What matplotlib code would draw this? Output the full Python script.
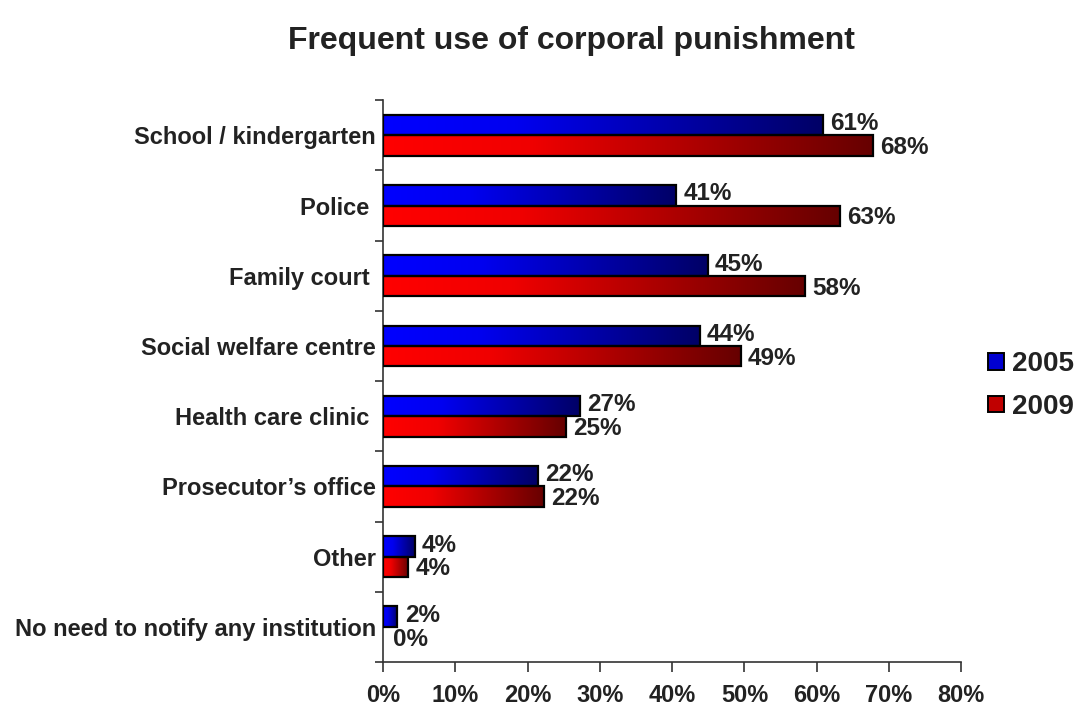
import numpy as np
import matplotlib
matplotlib.use("Agg")
import matplotlib.pyplot as plt
from matplotlib.colors import LinearSegmentedColormap
from matplotlib.patches import Rectangle, Patch

plt.rcParams['font.family'] = ['Liberation Sans', 'DejaVu Sans']

categories = [
    "School / kindergarten",
    "Police ",
    "Family court ",
    "Social welfare centre",
    "Health care clinic ",
    "Prosecutor\u2019s office",
    "Other",
    "No need to notify any institution",
]
values_2005 = [61, 41, 45, 44, 27, 22, 4, 2]
values_2009 = [68, 63, 58, 49, 25, 22, 4, 0]
# bar lengths as drawn (percent values rounded in labels)
bars_2005 = [60.8, 40.6, 44.9, 43.8, 27.2, 21.4, 4.4, 2.0]
bars_2009 = [67.8, 63.2, 58.4, 49.5, 25.3, 22.3, 3.5, 0.0]
series_names = ["2005", "2009"]
x_ticks = [0, 10, 20, 30, 40, 50, 60, 70, 80]

TEXT = "#222222"
blue_cmap = LinearSegmentedColormap.from_list(
    "blue_grad", [(0.0, "#0000ff"), (0.3, "#0000f0"), (1.0, "#000066")])
red_cmap = LinearSegmentedColormap.from_list(
    "red_grad", [(0.0, "#ff0000"), (0.3, "#f00000"), (1.0, "#660000")])

fig = plt.figure(figsize=(10.85, 7.11), dpi=100)
ax = fig.add_axes([0.353, 0.069, 0.533, 0.790])

n = len(categories)
bar_h = 0.29
gradient = np.linspace(0, 1, 256).reshape(1, -1)


def gradient_bar(y0, length, cmap):
    if length <= 0:
        return
    im = ax.imshow(gradient, cmap=cmap, aspect='auto',
                   extent=(0, length, y0, y0 + bar_h), zorder=2,
                   interpolation='bilinear')
    rect = Rectangle((0, y0), length, bar_h, facecolor='none',
                     edgecolor='black', linewidth=1.6, zorder=3)
    ax.add_patch(rect)
    im.set_clip_path(rect)


label_kw = dict(ha='left', va='center', fontsize=17.5, fontweight='bold',
                color=TEXT, zorder=4)
for i in range(n):
    center = n - 1 - i + 0.5  # top category first
    y_blue = center
    y_red = center - bar_h
    gradient_bar(y_blue, bars_2005[i], blue_cmap)
    gradient_bar(y_red, bars_2009[i], red_cmap)
    ax.text(bars_2005[i] + 1.0, y_blue + bar_h / 2 + 0.02,
            f"{values_2005[i]}%", **label_kw)
    off = 1.0 if bars_2009[i] > 0 else 1.4
    ax.text(bars_2009[i] + off, y_red + bar_h / 2 - 0.03,
            f"{values_2009[i]}%", **label_kw)

ax.set_xlim(0, 80)
ax.set_ylim(0, n)
ax.set_xticks(x_ticks)
ax.set_xticklabels([f"{t}%" for t in x_ticks], fontsize=17, fontweight='bold', color=TEXT)
ax.tick_params(axis='x', direction='out', length=7, width=1.2, color='#333333', pad=9)

# category boundaries as ticks, names at band centres
ax.set_yticks(np.arange(0, n + 1))
ax.set_yticklabels([])
ax.tick_params(axis='y', which='major', direction='out', length=6, width=1.2, color='#333333')
ax.set_yticks([n - 1 - i + 0.5 for i in range(n)], minor=True)
ax.set_yticklabels(categories, minor=True, fontsize=17, fontweight='bold', color=TEXT)
ax.tick_params(axis='y', which='minor', length=0, pad=5)

for side in ['top', 'right']:
    ax.spines[side].set_visible(False)
for side in ['left', 'bottom']:
    ax.spines[side].set_color('#333333')
    ax.spines[side].set_linewidth(1.2)

fig.text(0.527, 0.942, "Frequent use of corporal punishment", ha='center', va='center',
         fontsize=23, fontweight='bold', color=TEXT)

# legend
handles = [Patch(facecolor="#0000d0", edgecolor='black', linewidth=1.4),
           Patch(facecolor="#c00000", edgecolor='black', linewidth=1.4)]
fig.legend(handles, series_names, loc='center left', bbox_to_anchor=(0.911, 0.458),
           frameon=False, prop={'family': 'Liberation Sans', 'weight': 'bold', 'size': 20},
           handlelength=0.55, handleheight=0.55, handletextpad=0.3, labelspacing=0.6,
           labelcolor=TEXT, borderaxespad=0, borderpad=0)

fig.savefig("out.png", dpi=100)
